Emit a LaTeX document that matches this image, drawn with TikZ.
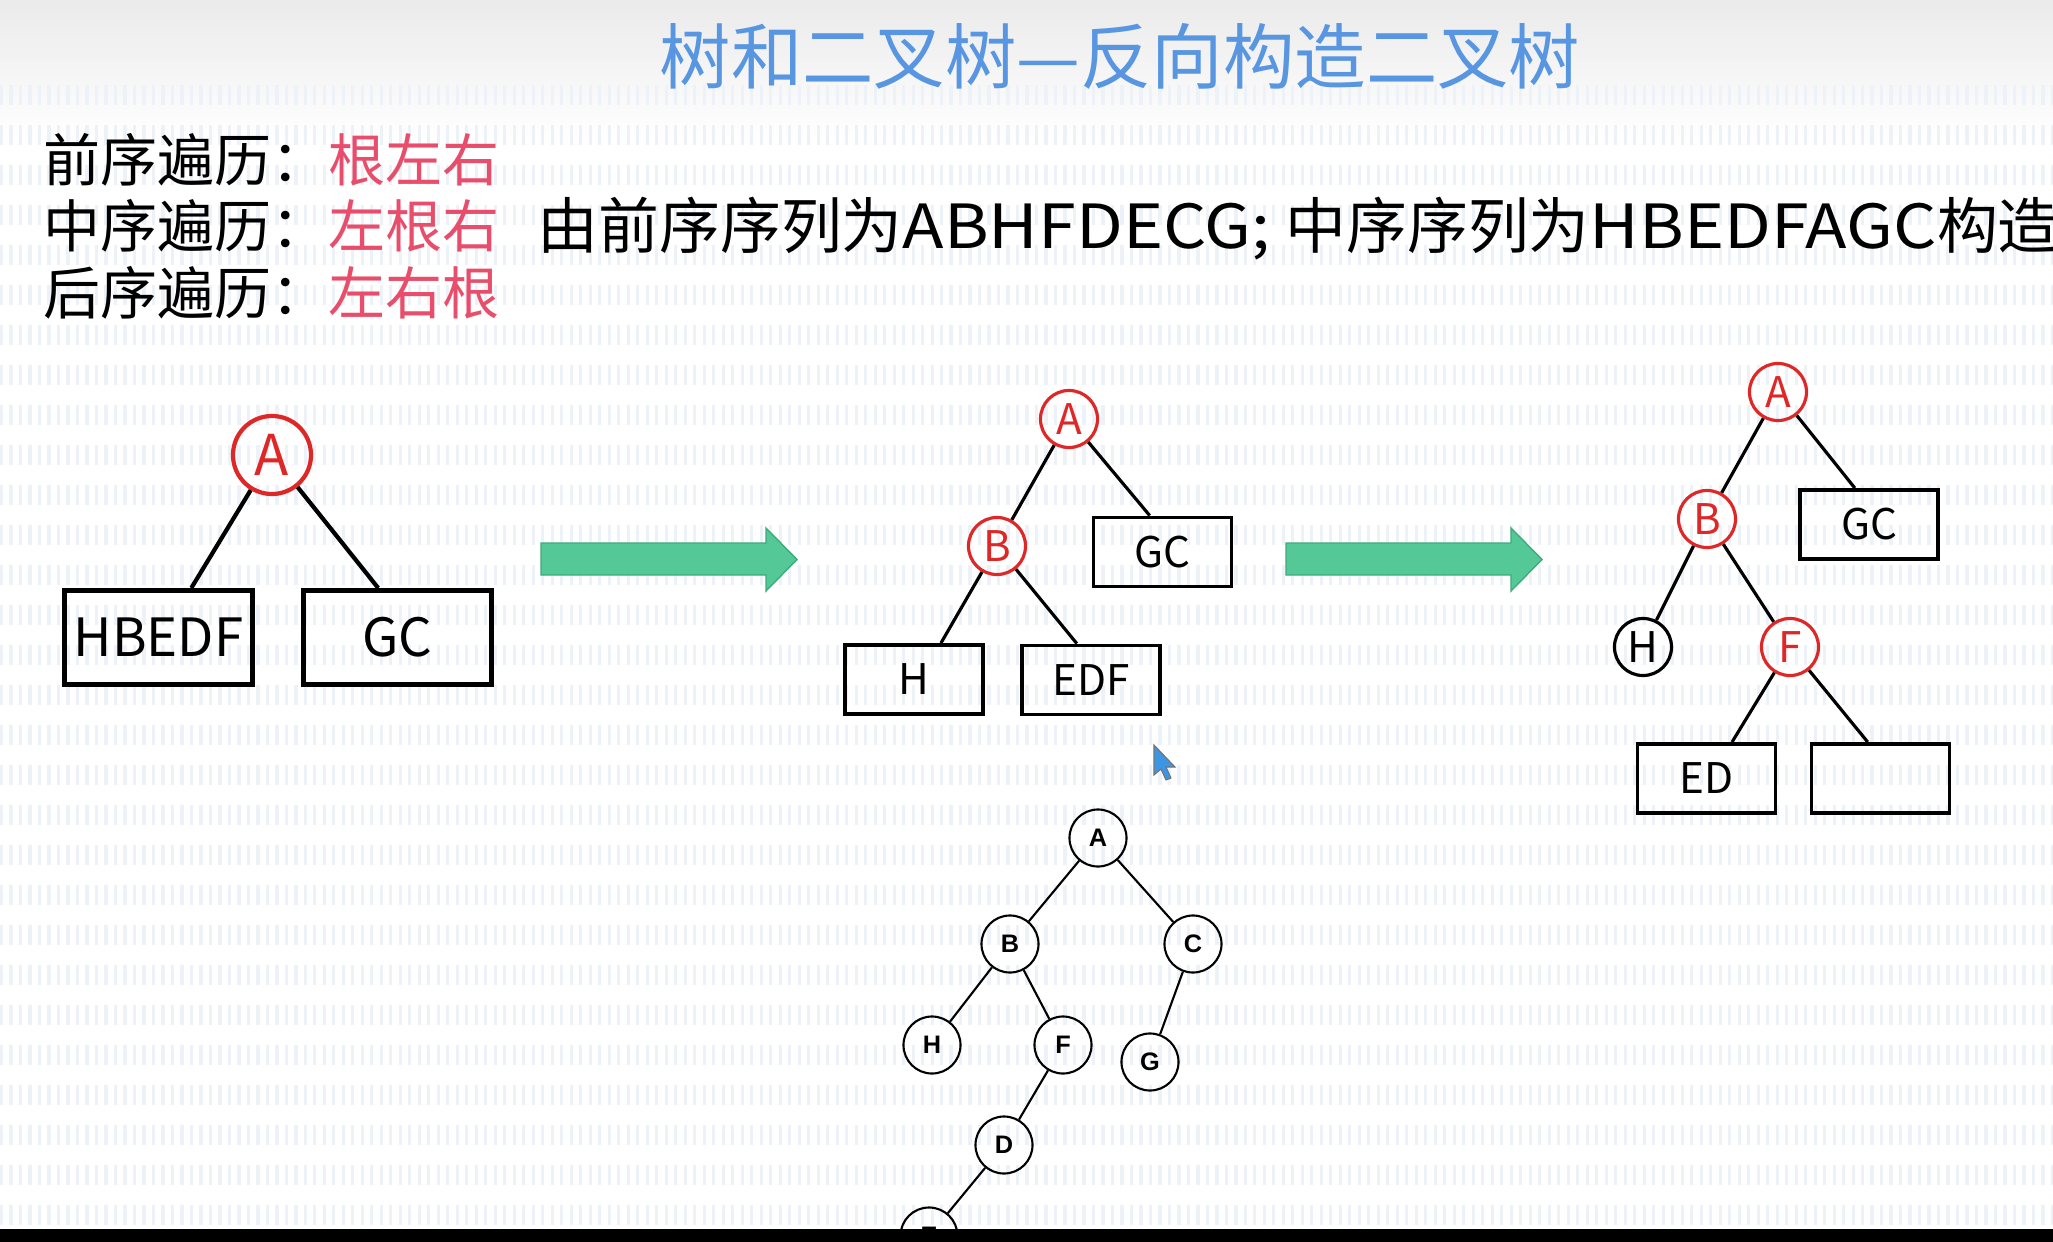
\documentclass[tikz,border=0pt]{standalone}
\usepackage{fontspec}
\setmainfont{Noto Sans CJK SC}
\newfontfamily\widelatin[FakeStretch=1.12]{Noto Sans CJK SC}
\newfontfamily\arialfont{Liberation Sans}
\usetikzlibrary{calc}
\definecolor{titleblue}{RGB}{88,150,225}
\definecolor{pinkred}{RGB}{232,78,108}
\definecolor{nodered}{RGB}{222,40,40}
\definecolor{arrowgreen}{RGB}{84,200,150}
\definecolor{arrowedge}{RGB}{62,172,124}
\definecolor{stripe}{RGB}{237,242,249}
\definecolor{cursorblue}{RGB}{60,150,230}

\begin{document}
\begin{tikzpicture}[x=0.01cm,y=-0.01cm,
  redbig/.style={circle,draw=nodered,line width=1.2pt,minimum size=0.78cm,inner sep=0pt,
    text=nodered,font=\fontsize{16pt}{18pt}\selectfont},
  redsmall/.style={circle,draw=nodered,line width=0.9pt,minimum size=0.57cm,inner sep=0pt,
    text=nodered,font=\fontsize{12pt}{14pt}\selectfont},
  blacksmall/.style={redsmall,draw=black,text=black},
  bigbox/.style={rectangle,draw=black,line width=1.4pt,minimum width=1.88cm,
    minimum height=0.94cm,inner sep=0pt,font=\fontsize{15pt}{18pt}\selectfont},
  smallbox/.style={rectangle,draw=black,line width=1.1pt,minimum width=1.38cm,
    minimum height=0.69cm,inner sep=0pt,font=\fontsize{12pt}{14pt}\selectfont},
  edgebig/.style={line width=1.2pt},
  edgesmall/.style={line width=0.9pt},
  plain/.style={circle,draw=black,line width=0.6pt,minimum size=0.57cm,inner sep=0pt,
    font=\arialfont\bfseries\fontsize{7.2pt}{8pt}\selectfont},
  bigarrow/.style={fill=arrowgreen,draw=arrowedge,line width=0.4pt},
  label/.style={anchor=west,inner sep=0pt,font=\fontsize{16.2pt}{18pt}\selectfont}
]
\useasboundingbox (0,0) rectangle (2053,1242);
\clip (0,0) rectangle (2053,1242);

% background
\fill[white] (0,0) rectangle (2053,1242);
\shade[top color=black!8,bottom color=white] (0,0) rectangle (2053,140);
\foreach \yy in {95,135,...,1215}
  \draw[stripe,line width=5.5pt,dash pattern=on 0.9pt off 1.8pt] (0,\yy) -- (2053,\yy);

% heading
\node[text=titleblue,font=\fontsize{20.3pt}{24pt}\selectfont,inner sep=0pt] (title) at (1120,56)
  {树和二叉树—反向构造二叉树};

% traversal rules
\node[label] (pre) at (43,160) {前序遍历：\textcolor{pinkred}{根左右}};
\node[label] (mid) at (43,226) {中序遍历：\textcolor{pinkred}{左根右}};
\node[label] (post) at (43,293) {后序遍历：\textcolor{pinkred}{左右根}};
\node[anchor=west,inner sep=0pt,font=\fontsize{17.3pt}{20pt}\selectfont] (task) at (537,229)
  {由前序序列为{\widelatin ABHFDECG; }中序序列为{\widelatin HBEDFAGC}构造};

% step 1
\node[redbig] (a1) at (272,455) {A};
\node[bigbox] (l1) at (158.5,637.5) {HBEDF};
\node[bigbox] (r1) at (397.5,637.5) {GC};
\draw[edgebig] (a1) -- ($(l1.north west)!0.67!(l1.north east)$);
\draw[edgebig] (a1) -- ($(r1.north west)!0.40!(r1.north east)$);

% transition arrows
\foreach \xx in {541,1286}
  \draw[bigarrow] (\xx,543) -- (\xx+225,543) -- (\xx+225,528) -- (\xx+256,559.5)
    -- (\xx+225,591) -- (\xx+225,575) -- (\xx,575) -- cycle;

% step 2
\node[redsmall] (a2) at (1069,419) {A};
\node[redsmall] (b2) at (997,546) {B};
\node[smallbox] (gc2) at (1162.5,552) {GC};
\node[smallbox] (h2) at (914,679.5) {H};
\node[smallbox] (edf2) at (1091,680) {EDF};
\draw[edgesmall] (a2) -- (b2);
\draw[edgesmall] (a2) -- ($(gc2.north west)!0.41!(gc2.north east)$);
\draw[edgesmall] (b2) -- ($(h2.north west)!0.69!(h2.north east)$);
\draw[edgesmall] (b2) -- ($(edf2.north west)!0.40!(edf2.north east)$);

% step 3
\node[redsmall] (a3) at (1778,392) {A};
\node[redsmall] (b3) at (1707,519) {B};
\node[smallbox] (gc3) at (1869,524.5) {GC};
\node[blacksmall] (h3) at (1643,647) {H};
\node[redsmall] (f3) at (1790,647) {F};
\node[smallbox] (ed3) at (1706.5,778.5) {ED};
\node[smallbox] (x3) at (1880.5,778.5) {};
\draw[edgesmall] (a3) -- (b3);
\draw[edgesmall] (a3) -- ($(gc3.north west)!0.40!(gc3.north east)$);
\draw[edgesmall] (b3) -- (h3);
\draw[edgesmall] (b3) -- (f3);
\draw[edgesmall] (f3) -- ($(ed3.north west)!0.68!(ed3.north east)$);
\draw[edgesmall] (f3) -- ($(x3.north west)!0.41!(x3.north east)$);

% finished tree
\node[plain] (ta) at (1098,838) {A};
\node[plain] (tb) at (1010,944) {B};
\node[plain] (tc) at (1193,944) {C};
\node[plain] (th) at (932,1045) {H};
\node[plain] (tf) at (1063,1045) {F};
\node[plain] (tg) at (1150,1062) {G};
\node[plain] (td) at (1004,1145) {D};
\node[plain] (te) at (929,1236) {E};
\foreach \p/\c in {ta/tb,ta/tc,tb/th,tb/tf,tc/tg,tf/td,td/te}
  \draw[line width=0.6pt] (\p) -- (\c);

% pointer
\draw[fill=cursorblue,draw=black!55,line width=0.3pt,shift={(1154,745)}]
  (0,0) -- (0,30) -- (7,24) -- (12,35) -- (17,33) -- (12,22) -- (21,22) -- cycle;

% bottom bar
\fill[black] (0,1229) rectangle (2053,1242);
\end{tikzpicture}
\end{document}
